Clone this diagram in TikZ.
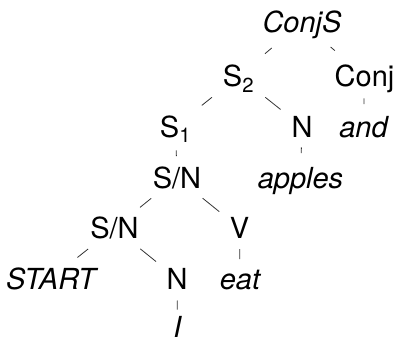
\documentclass[tikz,border=0pt]{standalone}
\usepackage{fontspec}
\setmainfont{TeX Gyre Heros}
\begin{document}
\begin{tikzpicture}[x=1pt,y=-1pt,
  lab/.style={inner sep=0pt, outer sep=0pt, text height=21pt, text depth=0pt,
              font=\fontsize{29}{34}\selectfont},
  it/.style={lab, font=\fontsize{29}{34}\selectfont\itshape},
  br/.style 2 args={draw=black!80, line width=0.8pt, shorten <=#1pt, shorten >=#2pt}]
\useasboundingbox (0,0) rectangle (395,339);
% nodes
\node[it]  (conjs)  at (302,22.5)   {ConjS};
\node[lab] (s2)     at (238.5,76)   {S\textsubscript{2}};
\node[lab] (conj)   at (364.5,76)   {Conj};
\node[lab] (s1)     at (175.5,126.5){S\textsubscript{1}};
\node[lab] (n1)     at (302,126.5)  {N};
\node[it]  (and)    at (363.5,126.5){and};
\node[lab] (sn1)    at (177,177.5)  {S/N};
\node[it]  (apples) at (300.5,177.5){apples};
\node[lab] (sn2)    at (114.5,228)  {S/N};
\node[lab] (v)      at (239.5,228)  {V};
\node[it]  (start)  at (51,278.5)   {START};
\node[lab] (n2)     at (177,278.5)  {N};
\node[it]  (eat)    at (240,278.5)  {eat};
\node[it]  (i)      at (177.5,326.5){I};
% connectors
\draw[br={39.6}{34.6}] (conjs.center) -- (s2.center);
\draw[br={37.7}{39.1}] (conjs.center) -- (conj.center);
\draw[br={34.1}{33.7}] (s2.center) -- (s1.center);
\draw[br={34.3}{27.4}] (s2.center) -- (n1.center);
\draw[br={22.3}{22.5}] (conj.center) -- (and.center);
\draw[br={24}{21.5}]   (s1.center) -- (sn1.center);
\draw[br={21}{24.5}]   (n1.center) -- (apples.center);
\draw[br={33.2}{32.8}] (sn1.center) -- (sn2.center);
\draw[br={33}{26}]     (sn1.center) -- (v.center);
\draw[br={21.2}{19.5}] (v.center) -- (eat.center);
\draw[br={33.7}{33.8}] (sn2.center) -- (start.center);
\draw[br={33.2}{27}]   (sn2.center) -- (n2.center);
\draw[br={22}{17}]     (n2.center) -- (i.center);
\end{tikzpicture}
\end{document}
